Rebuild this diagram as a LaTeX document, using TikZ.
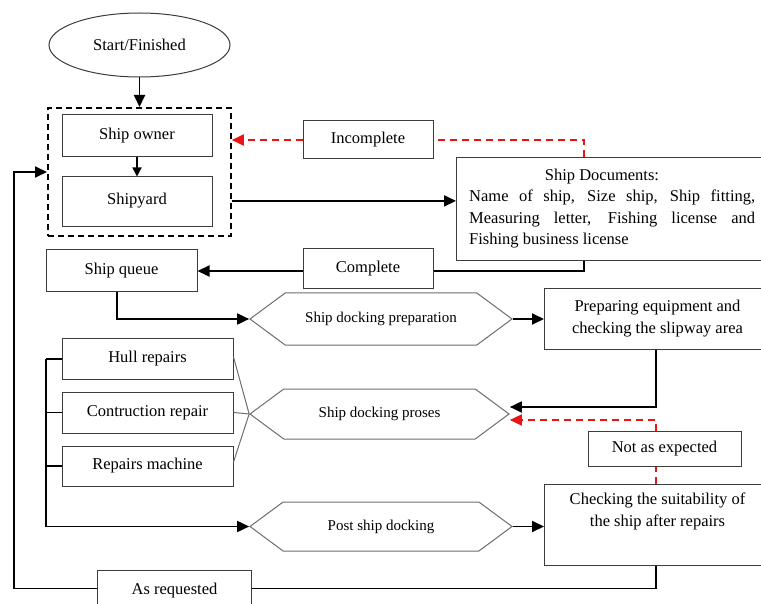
\documentclass[tikz,border=0pt]{standalone}
\usepackage{fontspec}
\setmainfont{Liberation Serif}
\usetikzlibrary{arrows.meta,shapes.geometric,shapes.symbols}
\definecolor{boxgray}{RGB}{60,60,60}
\definecolor{hexgray}{RGB}{110,110,110}
\definecolor{dashred}{RGB}{235,20,20}
\begin{document}
\begin{tikzpicture}[x=1pt,y=-1pt,
  txt/.style={inner sep=0pt, font=\fontsize{16.5}{21.5}\selectfont},
  box/.style={draw=boxgray, line width=1pt, fill=white, inner sep=0pt, font=\fontsize{16.5}{22}\selectfont},
  hexa/.style={signal, signal to=west and east, signal pointer angle=73, draw=hexgray, line width=1pt, inner sep=0pt, fill=white, font=\fontsize{15}{18}\selectfont},
  conn/.style={line width=1.8pt, black},
  arr/.style={conn, -{Triangle[length=12pt,width=11pt]}},
  reddash/.style={draw=dashred, line width=1.8pt, dash pattern=on 7pt off 5pt},
  redarr/.style={reddash, -{Triangle[length=12pt,width=11pt,fill=dashred]}},
  thinline/.style={draw=hexgray, line width=1pt}
]
\fill[white] (0,0) rectangle (761,604);
\useasboundingbox (0,0) rectangle (761,604);
\clip (0,0) rectangle (761,604);

% columns
\coordinate (c584) at (584,0);
\coordinate (c656) at (656,0);
\coordinate (bus) at (46,0);
\coordinate (c14) at (14,172);

% nodes
\node[draw=boxgray, line width=1pt, ellipse, minimum width=181pt, minimum height=64pt, inner sep=0pt, font=\fontsize{16.5}{20}\selectfont] (start) at (139.5,45) {Start/Finished};
\node[draw, line width=1.8pt, dash pattern=on 6pt off 4pt, minimum width=183pt, minimum height=128pt, anchor=north west, inner sep=0pt] (grp) at (47,107) {};
\node[box, minimum width=150pt, minimum height=42pt] (owner) at (137,136) {Ship owner};
\node[box, minimum width=150pt, minimum height=50pt] (yard) at (137,202) {\raisebox{7pt}{Shipyard}};

\node[box, minimum width=130pt, minimum height=38pt] (inc) at (368,140) {Incomplete};
\node[box, minimum width=130pt, minimum height=40pt] (comp) at (368,269) {Complete};

\node[box, minimum width=314pt, minimum height=103pt, anchor=north west] (docs) at (456,157) {};
\node[txt] (doct) at (602,177) {Ship Documents:};
\node[txt, text width=286pt, align=justify, anchor=north west] (docb) at (469,190)
  {Name of ship, Size ship, Ship fitting,\linebreak Measuring letter, Fishing license and\linebreak Fishing business license};

\node[box, minimum width=151pt, minimum height=42pt] (queue) at (121.5,271) {Ship queue};

\node[hexa, minimum width=262pt, minimum height=52pt] (prep) at (381,319) {Ship docking preparation};
\node[hexa, minimum width=259pt, minimum height=50pt] (proses) at (379.5,414) {Ship docking proses};
\node[hexa, minimum width=262pt, minimum height=49pt] (post) at (381,526.5) {Post ship docking};

\node[box, minimum width=226pt, minimum height=61pt, anchor=north west, align=center] (equip) at (544,288) {Preparing equipment and\\checking the slipway area};

\node[box, minimum width=171pt, minimum height=40pt] (hull) at (147.5,359) {Hull repairs};
\node[box, minimum width=171pt, minimum height=41pt] (cons) at (147.5,412.5) {Contruction repair};
\node[box, minimum width=171pt, minimum height=40pt] (mach) at (147.5,466) {Repairs machine};

\node[box, minimum width=153pt, minimum height=35pt] (nae) at (664.5,448.5) {Not as expected};
\node[box, minimum width=226pt, minimum height=81pt, anchor=north west,
  label={[txt, align=center, anchor=north, yshift=-9pt]north:{Checking the suitability of\\the ship after repairs}}] (check) at (544,484) {};
\node[box, minimum width=154pt, minimum height=40pt, anchor=north west] (asreq) at (97,570) {As requested};

% connectors
\draw[arr] (start.south) -- (start.south |- grp.north);
\draw[conn, line width=1.3pt, -{Triangle[length=9pt,width=9pt]}] (owner.south) -- (yard.north);
\draw[arr] ([yshift=-29pt]grp.east) -- ([yshift=-29pt]grp.east -| docs.west);
\draw[reddash] (docs.north -| c584) |- (inc.east);
\draw[redarr] (inc.west) -- (inc.west -| grp.east);
\draw[conn] (docs.south -| c584) |- ([yshift=-2pt]comp.east);
\draw[arr] ([yshift=-2pt]comp.west) -- ([yshift=-2pt]comp.west -| queue.east);
\draw[arr] ([xshift=-4.5pt]queue.south) |- (prep.west);
\draw[arr] (prep.east) -- (prep.east -| equip.west);
\draw[arr] (equip.south -| c656) |- ([yshift=7pt]proses.east);
\draw[reddash] (check.north -| c656) -- (nae.south -| c656);
\draw[redarr] (nae.north -| c656) |- ([yshift=-6pt]proses.east);
\draw[arr] (post.east) -- (post.east -| check.west);
\draw[conn] (check.south -| c656) |- ([yshift=2pt]asreq.east);
\draw[arr] ([yshift=2pt]asreq.west) -| (c14) -- (c14 -| grp.west);

\draw[thinline] ([yshift=2pt]hull.east) -- (proses.west);
\draw[thinline] (cons.east) -- (proses.west);
\draw[thinline] ([yshift=4pt]mach.east) -- (proses.west);

\draw[arr] (hull.west -| bus) |- (post.west);
\draw[conn, line width=1.3pt] (hull.west -| bus) -- (hull.west);
\draw[conn, line width=1.3pt] (cons.west -| bus) -- (cons.west);
\draw[conn, line width=1.3pt] (mach.west -| bus) -- (mach.west);
\end{tikzpicture}
\end{document}
